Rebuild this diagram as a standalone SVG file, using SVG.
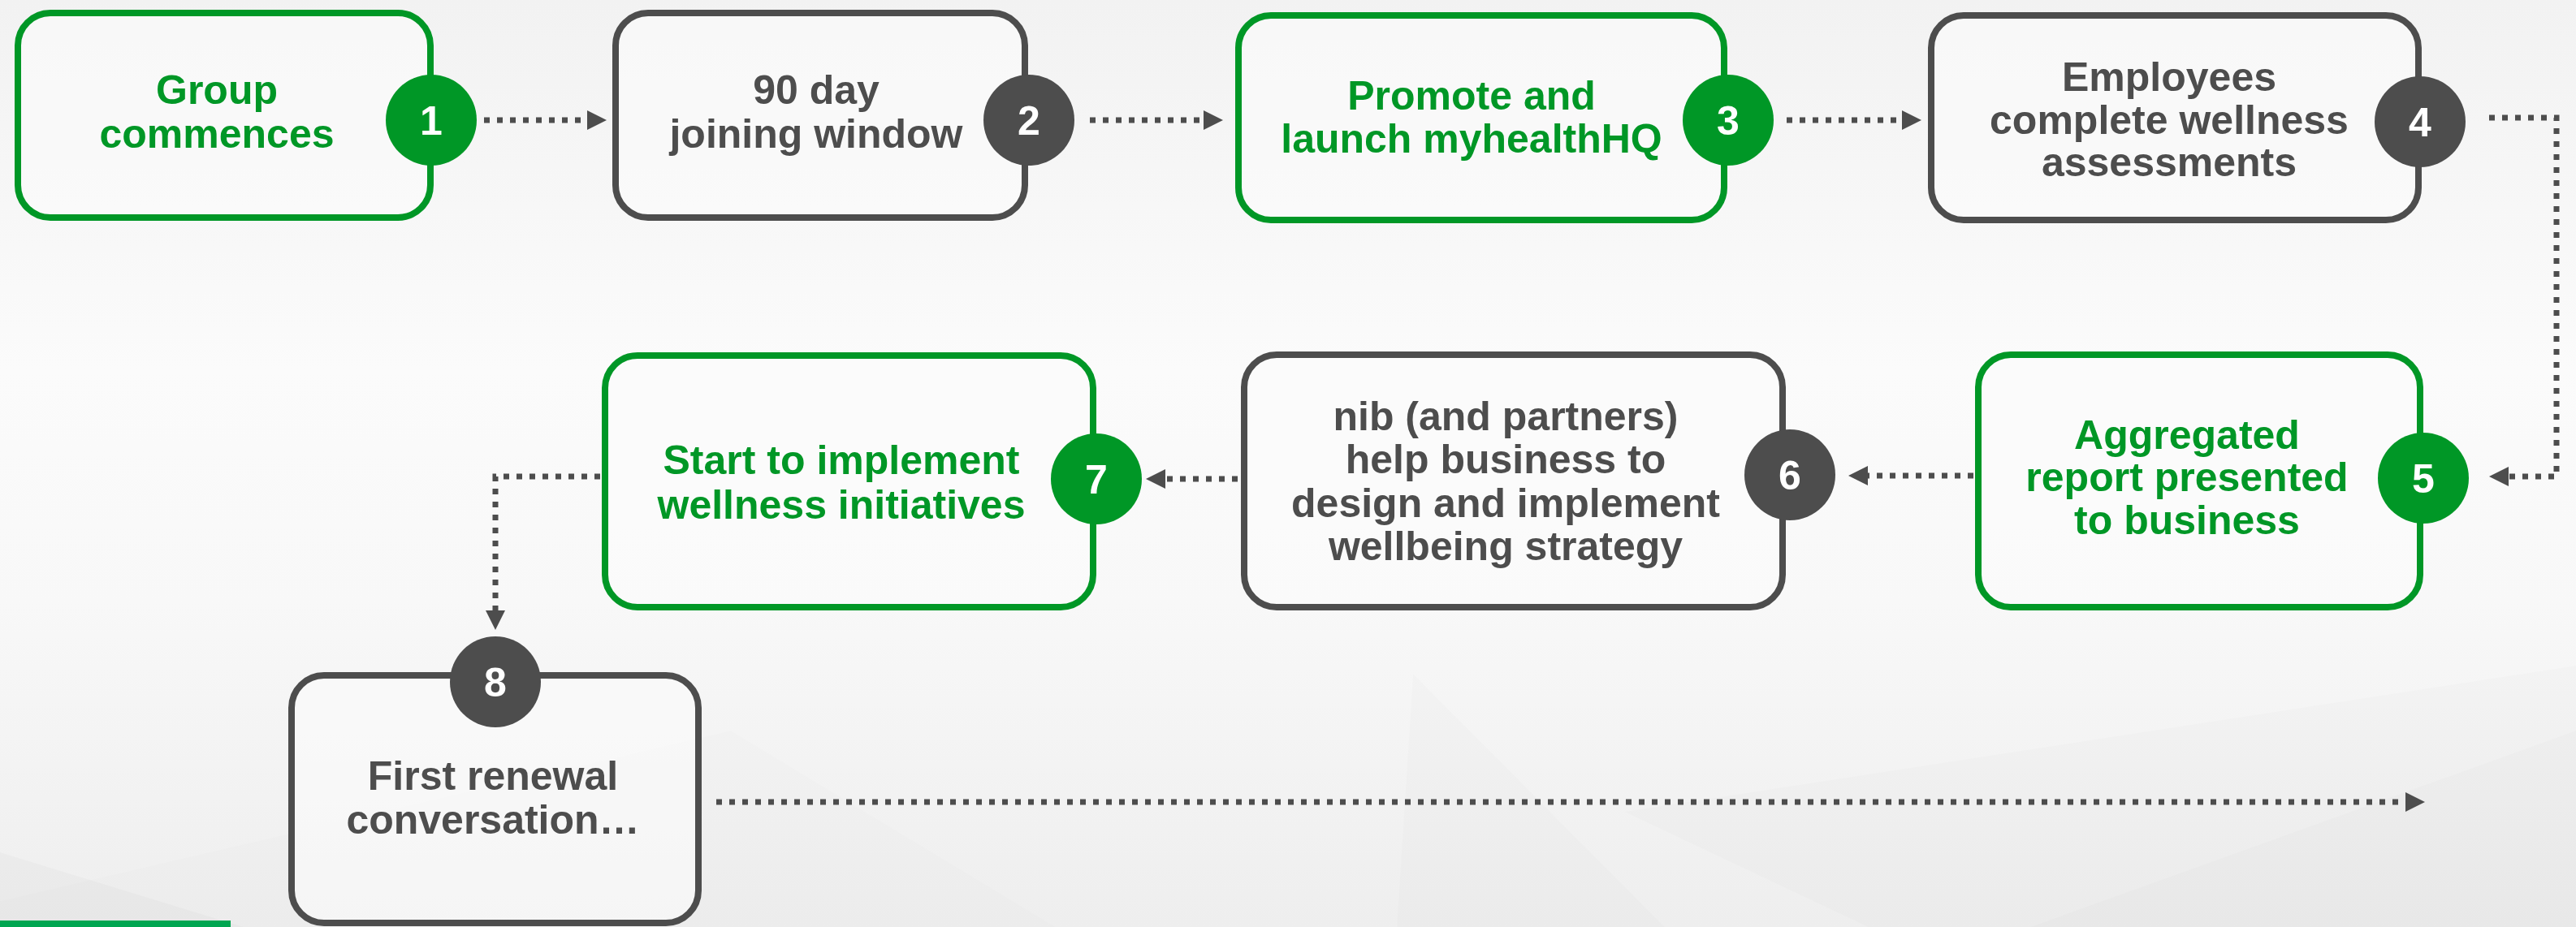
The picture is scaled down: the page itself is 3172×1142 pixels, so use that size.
<svg xmlns="http://www.w3.org/2000/svg" width="3172" height="1142" viewBox="0 0 3172 1142">
<defs>
<linearGradient id="bg" x1="0" y1="0" x2="0" y2="1">
<stop offset="0" stop-color="#f2f2f2"/>
<stop offset="0.4" stop-color="#fbfbfb"/>
<stop offset="0.65" stop-color="#f8f8f8"/>
<stop offset="1" stop-color="#eeeeee"/>
</linearGradient>
<marker id="ah" markerUnits="userSpaceOnUse" markerWidth="26" markerHeight="26" refX="0" refY="12" orient="auto">
<path d="M0,0 L24,12 L0,24 Z" fill="#4d4d4d"/>
</marker>
</defs>
<style>
.box{fill:#fcfcfc;fill-opacity:0.6;stroke-width:8}
.g{stroke:#009726}
.k{stroke:#4d4d4d}
.cg{fill:#009726}
.ck{fill:#4d4d4d}
.t{font-family:"Liberation Sans",Arial,sans-serif;font-weight:bold;font-size:50px;text-anchor:middle}
.tg{fill:#009726}
.tk{fill:#4d4d4d}
.n{fill:#ffffff}
.con{fill:none;stroke:#4d4d4d;stroke-width:7;stroke-dasharray:7 9;marker-end:url(#ah)}
</style>
<rect width="3172" height="1142" fill="url(#bg)"/>
<g id="background-shapes">
<polygon points="0,1050 300,1142 0,1142" fill="#000" fill-opacity="0.018"/>
<polygon points="0,1110 900,900 1300,1142 0,1142" fill="#000" fill-opacity="0.008"/>
<polygon points="1740,830 1720,1142 2050,1142" fill="#000" fill-opacity="0.01"/>
<polygon points="2000,1000 3172,820 3172,1142 2300,1142" fill="#000" fill-opacity="0.01"/>
<polygon points="2500,1142 3172,900 3172,1142" fill="#000" fill-opacity="0.012"/>
</g>
<rect x="0" y="1134" width="284" height="8" fill="#00a651"/>

<g id="connectors">
<path class="con" d="M596,148 H723"/>
<path class="con" d="M1342,148 H1482"/>
<path class="con" d="M2200,148 H2342"/>
<path class="con" d="M3065,145 H3148 V587 H3089"/>
<path class="con" d="M2430,586 H2300"/>
<path class="con" d="M1524,590 H1435"/>
<path class="con" d="M739,587 H610 V752"/>
<path class="con" d="M882,988 H2962"/>
</g>

<g id="node1">
<rect class="box g" x="22" y="16" width="508" height="252" rx="40"/>
<text class="t tg" x="267" y="128">Group</text>
<text class="t tg" x="267" y="182">commences</text>
<circle class="cg" cx="531" cy="148" r="56"/>
<text class="t n" x="531" y="166">1</text>
</g>
<g id="node2">
<rect class="box k" x="758" y="16" width="504" height="252" rx="40"/>
<text class="t tk" x="1005" y="128">90 day</text>
<text class="t tk" x="1005" y="182">joining window</text>
<circle class="ck" cx="1267" cy="148" r="56"/>
<text class="t n" x="1267" y="166">2</text>
</g>
<g id="node3">
<rect class="box g" x="1525" y="19" width="598" height="252" rx="40"/>
<text class="t tg" x="1812" y="135">Promote and</text>
<text class="t tg" x="1812" y="188">launch myhealthHQ</text>
<circle class="cg" cx="2128" cy="148" r="56"/>
<text class="t n" x="2128" y="166">3</text>
</g>
<g id="node4">
<rect class="box k" x="2378" y="19" width="600" height="252" rx="40"/>
<text class="t tk" x="2671" y="112">Employees</text>
<text class="t tk" x="2671" y="165">complete wellness</text>
<text class="t tk" x="2671" y="217">assessments</text>
<circle class="ck" cx="2980" cy="150" r="56"/>
<text class="t n" x="2980" y="168">4</text>
</g>
<g id="node5">
<rect class="box g" x="2436" y="437" width="544" height="311" rx="40"/>
<text class="t tg" x="2693" y="553">Aggregated</text>
<text class="t tg" x="2693" y="605">report presented</text>
<text class="t tg" x="2693" y="658">to business</text>
<circle class="cg" cx="2984" cy="589" r="56"/>
<text class="t n" x="2984" y="607">5</text>
</g>
<g id="node6">
<rect class="box k" x="1532" y="437" width="663" height="311" rx="40"/>
<text class="t tk" x="1854" y="530">nib (and partners)</text>
<text class="t tk" x="1854" y="583">help business to</text>
<text class="t tk" x="1854" y="637">design and implement</text>
<text class="t tk" x="1854" y="690">wellbeing strategy</text>
<circle class="ck" cx="2204" cy="585" r="56"/>
<text class="t n" x="2204" y="603">6</text>
</g>
<g id="node7">
<rect class="box g" x="745" y="438" width="601" height="310" rx="40"/>
<text class="t tg" x="1036" y="584">Start to implement</text>
<text class="t tg" x="1036" y="639">wellness initiatives</text>
<circle class="cg" cx="1350" cy="590" r="56"/>
<text class="t n" x="1350" y="608">7</text>
</g>
<g id="node8">
<rect class="box k" x="359" y="832" width="501" height="305" rx="40"/>
<text class="t tk" x="607" y="973">First renewal</text>
<text class="t tk" x="607" y="1027">conversation…</text>
<circle class="ck" cx="610" cy="840" r="56"/>
<text class="t n" x="610" y="858">8</text>
</g>
</svg>
